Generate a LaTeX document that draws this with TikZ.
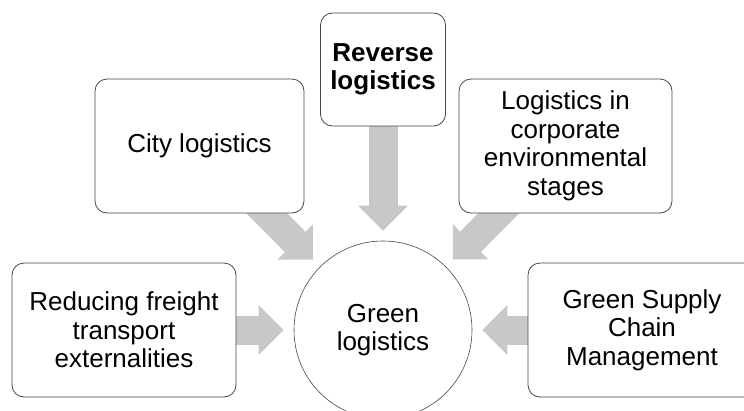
\documentclass[tikz,border=0pt]{standalone}
\usepackage{fontspec}
\setmainfont{Liberation Sans}
\usetikzlibrary{arrows.meta,backgrounds}
\definecolor{flowgray}{RGB}{200,200,200}
\definecolor{edgegray}{RGB}{70,70,70}
\tikzset{
	topic/.style={draw=edgegray, line width=0.8pt, fill=white, rounded corners=12pt, inner sep=0pt, align=center, font=\fontsize{26}{28.5}\selectfont},
	hub/.style={circle, draw=edgegray, line width=0.6pt, fill=white, minimum size=178pt, inner sep=0pt, align=center, font=\fontsize{26}{28.5}\selectfont},
	flow/.style={flowgray, line width=29pt, shorten >=10pt, -{Triangle[width=50pt,length=25pt,line width=0pt]}}
}

\begin{document}
\begin{tikzpicture}[x=1pt, y=-1pt]
			%%%%% START %%%%%
			
			\clip (0, 0) rectangle (744, 410);
			
			\node[hub] (green) at (383, 330) {Green\\logistics};
			
			\node[topic, minimum width=224pt, minimum height=134pt] (freight) at (124, 330) {Reducing freight\\transport\\externalities};
			\node[topic, minimum width=209pt, minimum height=134pt] (city) at (199.5, 146) {City logistics};
			\node[topic, minimum width=125pt, minimum height=113pt, font=\fontsize{26}{28.5}\selectfont\bfseries] (reverse) at (383, 69.5) {Reverse\\logistics};
			\node[topic, minimum width=213pt, minimum height=134pt] (corporate) at (565.5, 146) {Logistics in\\corporate\\environmental\\stages};
			\node[topic, minimum width=228pt, minimum height=134pt] (gscm) at (642, 330) {Green Supply\\Chain\\Management};
			
			\begin{pgfonlayer}{background}
				\draw[flow] (freight.center) -- (green);
				\draw[flow] (city.center) -- (green);
				\draw[flow] (reverse.center) -- (green);
				\draw[flow] (corporate.center) -- (green);
				\draw[flow] (gscm.center) -- (green);
			\end{pgfonlayer}
			
			%%%%% END %%%%%
\end{tikzpicture}
\end{document}
